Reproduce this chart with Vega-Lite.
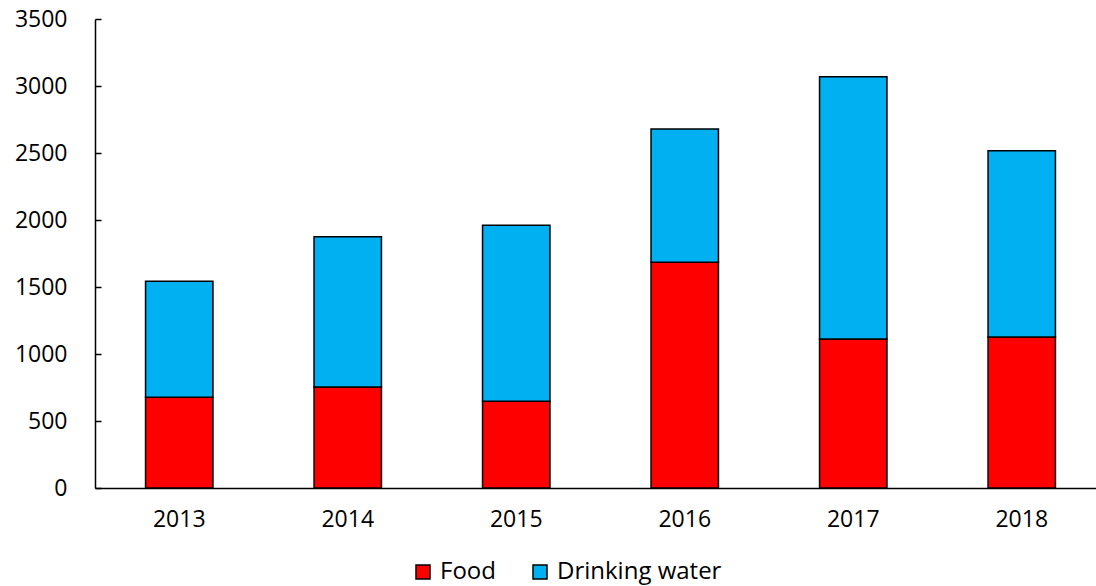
{
  "$schema": "https://vega.github.io/schema/vega-lite/v6.json",
  "autosize": {"type": "none"},
  "padding": {"left": 95, "top": 19, "right": 0, "bottom": 98},
  "width": 1001,
  "height": 469,
  "background": "white",
  "config": {
    "view": {"stroke": null},
    "font": "Open Sans",
    "axis": {"labelFont": "Open Sans", "labelFontSize": 23, "labelColor": "black", "grid": false, "domainColor": "black", "domainWidth": 1.5, "tickColor": "black", "tickWidth": 1.5}
  },
  "data": {
    "values": [
      {"year": "2013", "category": "Food", "value": 677},
      {"year": "2013", "category": "Drinking water", "value": 866},
      {"year": "2014", "category": "Food", "value": 754},
      {"year": "2014", "category": "Drinking water", "value": 1121},
      {"year": "2015", "category": "Food", "value": 647},
      {"year": "2015", "category": "Drinking water", "value": 1313},
      {"year": "2016", "category": "Food", "value": 1684},
      {"year": "2016", "category": "Drinking water", "value": 995},
      {"year": "2017", "category": "Food", "value": 1112},
      {"year": "2017", "category": "Drinking water", "value": 1957},
      {"year": "2018", "category": "Food", "value": 1127},
      {"year": "2018", "category": "Drinking water", "value": 1390}
    ]
  },
  "mark": {"type": "bar", "stroke": "black", "strokeWidth": 1.5},
  "encoding": {
    "x": {
      "field": "year", "type": "nominal",
      "scale": {"range": [0, 1011], "paddingInner": 0.6, "paddingOuter": 0.3},
      "axis": {"title": null, "labelAngle": 0, "ticks": false, "labelPadding": 20}
    },
    "y": {
      "field": "value", "type": "quantitative", "aggregate": "sum", "stack": "zero",
      "scale": {"domain": [0, 3500], "nice": false},
      "axis": {"title": null, "format": "d", "values": [0, 500, 1000, 1500, 2000, 2500, 3000, 3500], "tickSize": -6, "labelPadding": 34}
    },
    "color": {
      "field": "category", "type": "nominal",
      "sort": ["Food", "Drinking water"],
      "scale": {"domain": ["Food", "Drinking water"], "range": ["#FF0000", "#00B0F0"]},
      "legend": {
        "title": null, "orient": "none", "direction": "horizontal",
        "legendX": 316, "legendY": 541,
        "symbolType": "square", "symbolSize": 196, "symbolStrokeColor": "black", "symbolStrokeWidth": 1.5, "symbolOpacity": 1,
        "labelFont": "Open Sans", "labelFontSize": 24, "labelColor": "black", "labelOffset": 5, "columnPadding": 32, "labelLimit": 400
      }
    },
    "order": {"field": "category", "sort": "descending"}
  }
}
